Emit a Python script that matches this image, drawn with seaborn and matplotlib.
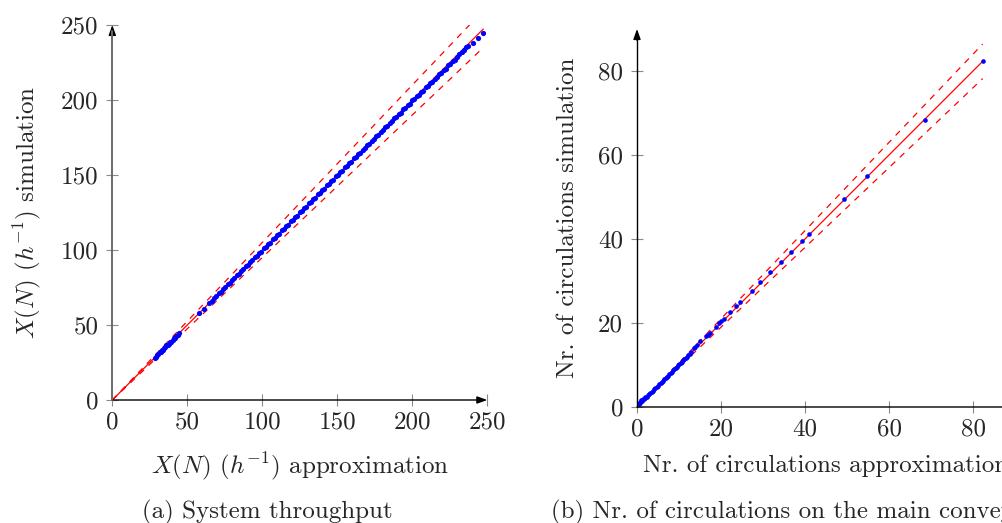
import matplotlib
matplotlib.use("Agg")
import matplotlib.pyplot as plt
import seaborn as sns

# ---------------- data ----------------
# (a) System throughput: approximation (x) vs simulation (y)
thr_approx = [28.5, 29.3, 30.0, 30.8, 31.5, 32.3, 33.0, 33.9, 34.6, 35.4,
              36.1, 37.0, 37.8, 38.5, 39.3, 40.2, 41.0, 41.8, 42.6, 43.5, 44.7,
              58.0, 61.1, 64.7,
              66.5, 68.0, 69.4, 70.9, 72.5, 74.0, 75.4, 76.9, 78.5, 80.0,
              81.4, 82.9, 84.5, 86.0, 87.4, 88.9, 90.5, 92.0, 93.4, 94.9,
              96.5, 98.0, 99.4, 100.9, 102.5, 104.0, 105.4, 106.9, 108.5, 110.0,
              111.4, 112.9, 114.5, 116.0, 117.4, 118.9, 120.5, 122.0, 123.4, 124.9,
              126.5, 128.0, 129.4, 130.9, 132.5, 134.0, 135.4, 136.9, 138.5, 140.0,
              141.4, 142.9, 144.5, 146.0, 147.4, 148.9, 150.5, 152.0, 153.4, 154.9,
              156.5, 158.0, 159.4, 160.9, 162.5, 164.0, 165.4, 166.9, 168.5, 170.0,
              171.4, 172.9, 174.5, 176.0, 177.4, 178.9, 180.5, 182.0, 183.4, 184.9,
              186.5, 188.0, 189.4, 190.9, 192.5, 194.0, 195.4, 196.9, 198.5, 200.0,
              201.4, 202.9, 204.5, 206.0, 207.4, 208.9, 210.5, 212.0, 213.4, 214.9,
              216.5, 218.0, 219.4, 220.9, 222.5, 224.0, 225.4, 226.9, 228.5, 230.0,
              231.4, 232.9, 234.5, 236.0, 237.4,
              240.2, 243.6, 247.3]
thr_sim = [27.8, 29.0, 30.3, 30.5, 31.8, 32.0, 33.2, 33.6, 34.9, 35.1,
           36.4, 36.8, 37.6, 38.8, 39.0, 40.0, 41.3, 41.5, 42.9, 43.2, 44.4,
           57.8, 60.7, 64.4,
           66.3, 68.2, 69.1, 71.2, 72.3, 74.3, 75.1, 77.2, 78.3, 80.3,
           81.1, 83.1, 84.2, 86.3, 87.1, 89.2, 90.2, 92.3, 93.1, 95.2,
           96.2, 98.3, 99.0, 101.2, 102.2, 104.3, 105.0, 107.2, 108.2, 110.3,
           111.0, 113.2, 114.1, 116.3, 117.0, 119.2, 120.1, 122.3, 123.0, 125.2,
           126.1, 128.3, 129.0, 131.2, 132.1, 134.3, 135.0, 137.2, 138.1, 140.3,
           141.0, 143.2, 144.1, 146.3, 147.0, 149.2, 150.1, 152.3, 153.0, 155.1,
           156.1, 158.2, 158.9, 161.1, 162.0, 164.2, 164.9, 167.0, 168.0, 170.1,
           170.8, 173.0, 173.9, 176.1, 176.8, 178.9, 179.8, 182.0, 182.7, 184.8,
           185.7, 187.9, 188.6, 190.7, 191.6, 193.8, 194.5, 196.6, 197.5, 199.7,
           200.4, 202.5, 203.4, 205.6, 206.3, 208.4, 209.3, 211.5, 212.1, 214.3,
           215.1, 217.3, 217.9, 220.1, 221.0, 223.1, 223.8, 226.0, 226.8, 228.9,
           230.4, 232.0, 233.3, 235.1, 236.0,
           238.2, 241.5, 244.9]

# (b) Nr. of circulations on the main conveyor
circ_approx = [0.4, 0.6, 0.8, 1.0, 1.2, 1.4, 1.6, 1.8, 2.0, 2.3,
               2.6, 2.9, 3.2, 3.5, 3.8, 4.1, 4.4, 4.7, 5.0, 5.3,
               5.6, 5.9, 6.2, 6.5, 6.8, 7.1, 7.4, 7.7, 8.0, 8.3,
               8.6, 8.9, 9.2, 9.5, 9.8, 10.1, 10.4, 10.7, 11.0, 11.3,
               11.6, 11.9, 12.2, 12.5, 12.9,
               13.65, 13.9, 14.4, 15.1, 16.4, 16.8, 17.4, 18.7, 19.6, 20.1,
               20.6, 22.1, 23.6, 24.6, 27.4, 29.4, 31.7, 34.3, 36.6, 39.4,
               41.0, 49.3, 54.8, 68.6, 82.3]
circ_sim = [0.6, 1.1, 1.0, 1.6, 1.5, 1.9, 1.8, 2.2, 2.3, 2.5,
            2.8, 3.0, 3.4, 3.6, 3.9, 4.2, 4.5, 4.8, 5.1, 5.4,
            5.7, 6.0, 6.3, 6.6, 6.9, 7.2, 7.5, 7.8, 8.1, 8.4,
            8.7, 9.0, 9.3, 9.6, 9.9, 10.2, 10.5, 10.8, 11.1, 11.4,
            11.7, 12.0, 12.3, 12.6, 13.0,
            14.1, 14.3, 14.8, 15.6, 16.8, 17.2, 17.7, 19.0, 20.1, 20.5,
            20.9, 22.7, 24.0, 24.9, 27.7, 29.7, 32.1, 34.5, 37.0, 39.6,
            41.3, 49.5, 55.0, 68.3, 82.4]

ticks_a = [0, 50, 100, 150, 200, 250]
ticks_b = [0, 20, 40, 60, 80]
band = [1.0, 1.05, 0.95]   # identity line and +/-5 % bounds

# ---------------- style ----------------
sns.set_theme(style="white")
plt.rcParams["font.family"] = ["cmr10", "DejaVu Serif"]
plt.rcParams["mathtext.fontset"] = "cm"
plt.rcParams["axes.formatter.use_mathtext"] = True

W, H = 1003, 523
fig = plt.figure(figsize=(W / 100, H / 100), dpi=100)
axa = fig.add_axes([112.3 / W, (H - 400) / H, 375 / W, 375 / H])
axb = fig.add_axes([637 / W, (H - 407) / H, 378 / W, 378 / H])

FS = 18
ARROW = "-|>,head_length=0.5,head_width=0.18"


def draw(ax, xs, ys, lim, ticks, ycolor, size):
    xmax = max(xs)
    for f in band:
        sns.lineplot(x=[0, xmax], y=[0, xmax * f], ax=ax, color="#ff0000",
                     lw=0.9, linestyle="-" if f == 1.0 else (0, (5, 5)),
                     zorder=2)
    sns.scatterplot(x=xs, y=ys, ax=ax, color="#0000ff", s=size, linewidth=0,
                    zorder=3)
    ax.set_xlim(0, lim)
    ax.set_ylim(0, lim)
    ax.set_xticks(ticks)
    ax.set_yticks(ticks)
    ax.set_xticklabels([str(t) for t in ticks])
    ax.set_yticklabels([str(t) for t in ticks])
    for s in ax.spines.values():
        s.set_visible(False)
    ax.tick_params(axis="x", direction="inout", length=8, width=0.8,
                   color="#8a8a8a", labelsize=FS, pad=4.5, bottom=True)
    ax.tick_params(axis="y", direction="inout", length=8, width=0.8,
                   color="#8a8a8a", labelsize=FS, pad=6.0, left=True)
    ax.annotate("", xy=(1, 0), xytext=(0, 0), xycoords="axes fraction",
                arrowprops=dict(arrowstyle=ARROW, color="black", lw=1.0,
                                shrinkA=0, shrinkB=0),
                annotation_clip=False)
    # y axis line (may be grey) plus a black arrow head
    ax.plot([0, 0], [0, 0.985], transform=ax.transAxes, color=ycolor,
            lw=1.4 if ycolor != "black" else 1.0, clip_on=False, zorder=4)
    ax.annotate("", xy=(0, 1), xytext=(0, 0.97), xycoords="axes fraction",
                arrowprops=dict(arrowstyle=ARROW, color="black", lw=1.0,
                                shrinkA=0, shrinkB=0),
                annotation_clip=False)
    ax.grid(False)


draw(axa, thr_approx, thr_sim, 250, ticks_a, "#6a6a6a", 14)
draw(axb, circ_approx, circ_sim, 90, ticks_b, "black", 11)

axa.set_xlabel(r"$X(N)$ $(h^{-1})$ approximation", fontsize=FS)
axa.set_ylabel(r"$X(N)$ $(h^{-1})$ simulation", fontsize=FS)
axa.xaxis.set_label_coords(0.5, -0.176)
axa.xaxis.label.set_va("center")
axa.yaxis.set_label_coords(-0.226, 0.5)
axa.yaxis.label.set_va("center")

axb.set_xlabel("Nr. of circulations approximation", fontsize=FS)
axb.set_ylabel("Nr. of circulations simulation", fontsize=FS)
axb.xaxis.set_label_coords((643 - 637) / 378, -0.156)
axb.xaxis.label.set_va("center")
axb.xaxis.label.set_ha("left")
axb.yaxis.set_label_coords(-0.183, 0.5)
axb.yaxis.label.set_va("center")

fig.text(267 / W, 1 - 512 / H, "(a) System throughput", fontsize=FS,
         ha="center", va="center")
fig.text(551 / W, 1 - 512 / H, "(b) Nr. of circulations on the main conveyor",
         fontsize=FS, ha="left", va="center")

fig.savefig("out.png", dpi=100)
